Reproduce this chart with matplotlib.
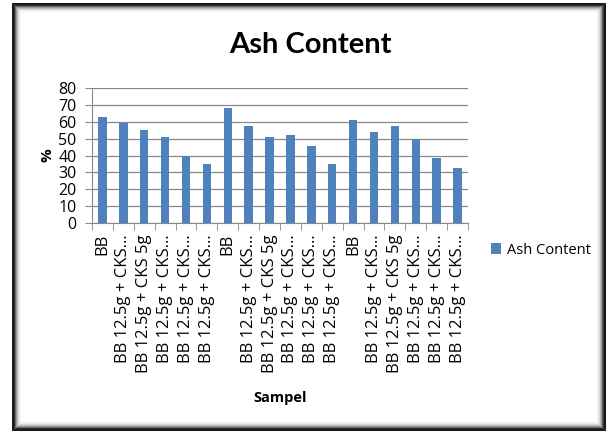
import matplotlib.pyplot as plt
from matplotlib.patches import Rectangle

# data
labels = ['BB', 'BB 12.5g + CKS…', 'BB 12.5g + CKS 5g', 'BB 12.5g + CKS…', 'BB 12.5g + CKS…', 'BB 12.5g + CKS…'] * 3
ash = [62.6, 59.4, 55.2, 51.2, 39.6, 35.2,
       68.2, 57.6, 51.2, 52.0, 45.6, 35.2,
       61.0, 54.2, 57.6, 49.6, 38.8, 32.4]
yticks = [0, 10, 20, 30, 40, 50, 60, 70, 80]

plt.rcParams['font.family'] = ['Open Sans', 'DejaVu Sans']

W, H = 607, 432
fig = plt.figure(figsize=(W / 100, H / 100), dpi=100)

# frame with inner shadow
x0, y0, x1, y1 = 12, 3, 605, 430
shades = ['#1a1a1a', '#1a1a1a', '#333333', '#666666', '#999999', '#bbbbbb', '#d8d8d8', '#ebebeb', '#f6f6f6']
for i, c in enumerate(shades):
    fig.patches.append(Rectangle(((x0 + i) / W, 1 - (y1 - i) / H),
                                 (x1 - x0 - 2 * i) / W, (y1 - y0 - 2 * i) / H,
                                 transform=fig.transFigure, fill=False,
                                 edgecolor=c, linewidth=0.75))

ax = fig.add_axes([92 / W, 1 - 223 / H, 376 / W, 135 / H])
pos = range(len(ash))
ax.bar(pos, ash, width=0.4, color='#4F81BD', label='Ash Content', zorder=3)

ax.set_xlim(-0.5, len(ash) - 0.5)
ax.set_ylim(0, 80)
ax.set_yticks(yticks)
ax.tick_params(axis='y', labelsize=11.5, length=5, color='#888888', pad=6)
ax.set_xticks(pos)
ax.set_xticklabels(labels, rotation=90, fontsize=12, va='top', ha='center')
ax.tick_params(axis='x', length=0, pad=8)
# tick marks between categories
ax.set_xticks([p + 0.5 for p in range(-1, len(ash))], minor=True)
ax.tick_params(axis='x', which='minor', length=5, color='#888888')
ax.grid(axis='y', color='#888888', linewidth=0.9, zorder=0)
for s in ['top', 'right']:
    ax.spines[s].set_visible(False)
for s in ['left', 'bottom']:
    ax.spines[s].set_color('#888888')

ax.set_ylabel('%', fontsize=11, fontweight='bold', labelpad=3)
ax.set_xlabel('Sampel', fontsize=10.5, fontweight='bold', labelpad=13)

fig.text(310 / W, 1 - 45 / H, 'Ash Content', fontsize=21, fontweight='bold', ha='center', va='center',
         family=['Lato', 'DejaVu Sans'])

ax.legend(loc='center left', bbox_to_anchor=(478 / W, 1 - 250 / H), bbox_transform=fig.transFigure,
          frameon=False, fontsize=10.5, handlelength=0.7, handleheight=0.7, handletextpad=0.4)

fig.savefig('out.png', dpi=100)
